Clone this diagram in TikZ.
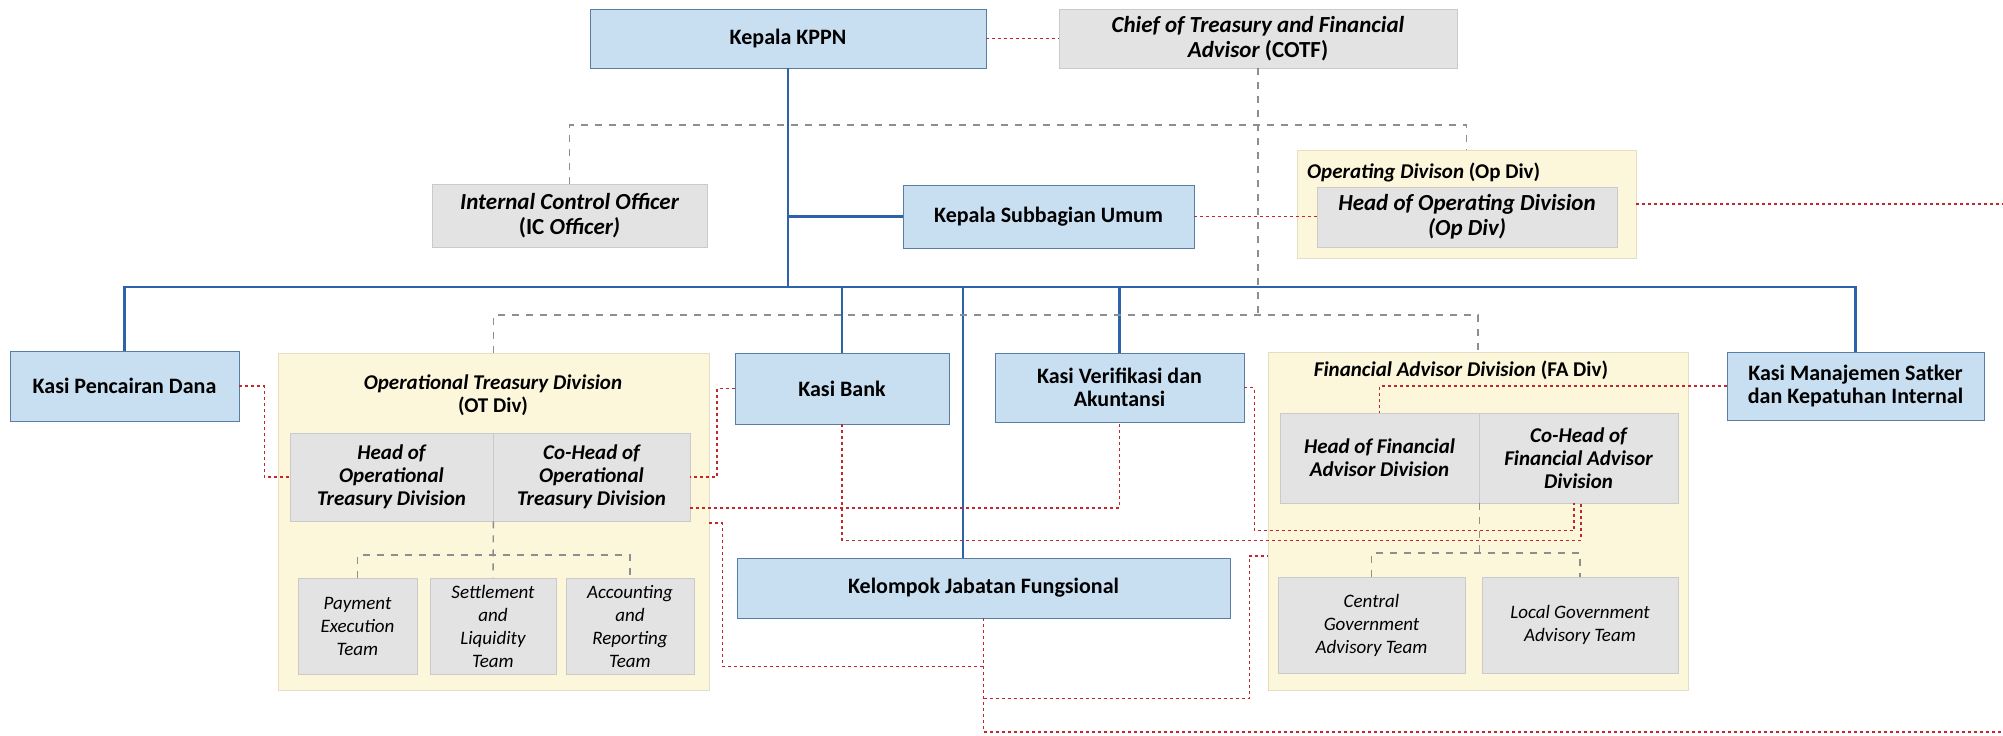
\documentclass[tikz,border=0pt]{standalone}
\usepackage{fontspec}
\setmainfont{Carlito}
\definecolor{kasiblue}{HTML}{C8DEF1}
\definecolor{kasiedge}{HTML}{5A7DA3}
\definecolor{headgray}{HTML}{E3E3E3}
\definecolor{grayedge}{HTML}{CACACA}
\definecolor{divyellow}{HTML}{FCF6DA}
\definecolor{divedge}{HTML}{E4DFC4}
\definecolor{linkblue}{HTML}{2E62A9}
\definecolor{linkred}{HTML}{C1272D}
\definecolor{linkgray}{HTML}{8E8E8E}
\begin{document}
\begin{tikzpicture}[x=1pt, y=-1pt,
  every node/.style={inner sep=0pt, align=center},
  bluebox/.style={draw=kasiedge, fill=kasiblue, line width=0.8pt,
    font=\fontsize{22}{23}\selectfont\bfseries},
  graybox/.style={draw=grayedge, fill=headgray, line width=0.8pt,
    font=\fontsize{23}{25}\selectfont\bfseries\itshape},
  headbox/.style={draw=grayedge, fill=headgray, line width=0.8pt,
    font=\fontsize{21}{23}\selectfont\bfseries\itshape},
  teambox/.style={draw=grayedge, fill=headgray, line width=0.8pt,
    font=\fontsize{19}{23}\selectfont\itshape},
  divbox/.style={draw=divedge, fill=divyellow, line width=0.8pt},
  divtitle/.style={font=\fontsize{21}{23}\selectfont\bfseries},
  bluelink/.style={draw=linkblue, line width=2.4pt},
  redlink/.style={draw=linkred, line width=1.8pt, dash pattern=on 3pt off 3pt},
  graylink/.style={draw=linkgray, line width=1.4pt, dash pattern=on 7pt off 7pt}]
  \useasboundingbox (0,0) rectangle (2003,736);
  \fill[white] (0,0) rectangle (2003,736);
  % division panels
  \node[divbox, minimum width=339, minimum height=108] (opdiv) at (1466.5,204) {};
  \node[divbox, minimum width=431, minimum height=337] (otdiv) at (493.5,521.5) {};
  \node[divbox, minimum width=420, minimum height=338] (fadiv) at (1478,521) {};
  \node[divtitle, anchor=west] (optitle) at (1307,172)
       {\textit{Operating Divison} (Op Div)};
  \node[divtitle] (ottitle) at (493,395)
       {\textit{Operational Treasury Division}\\(OT Div)};
  \node[divtitle] (fatitle) at (1461,370)
       {\textit{Financial Advisor Division} (FA Div)};
  % top level
  \node[bluebox, minimum width=396, minimum height=59] (kppn) at (788,38.5)
       {Kepala KPPN};
  \node[graybox, minimum width=398, minimum height=59] (cotf) at (1258,38.5)
       {Chief of Treasury and Financial\\Advisor {\upshape(COTF)}};
  \node[graybox, minimum width=275, minimum height=63] (ico) at (569.5,215.5)
       {Internal Control Officer\\{\upshape(IC} Officer)};
  \node[bluebox, minimum width=291, minimum height=63] (ksu) at (1048.5,216.5)
       {Kepala Subbagian Umum};
  \node[graybox, minimum width=300, minimum height=60] (ophead) at (1467,217)
       {Head of Operating Division\\(Op Div)};
  % kasi row
  \node[bluebox, minimum width=229, minimum height=70] (kpd) at (124.5,386)
       {Kasi Pencairan Dana};
  \node[bluebox, minimum width=214, minimum height=71] (kbank) at (842,388.5)
       {Kasi Bank};
  \node[bluebox, minimum width=249, minimum height=69] (kverif) at (1119.5,387.5)
       {Kasi Verifikasi dan\\Akuntansi};
  \node[bluebox, minimum width=257, minimum height=68] (kman) at (1855.5,386)
       {Kasi Manajemen Satker\\dan Kepatuhan Internal};
  \node[bluebox, minimum width=493, minimum height=60] (kjf) at (983.5,588)
       {Kelompok Jabatan Fungsional};
  % OT division
  \node[headbox, minimum width=203, minimum height=88] (othead) at (391.5,477)
       {Head of\\Operational\\Treasury Division};
  \node[headbox, minimum width=197, minimum height=88] (otcohead) at (591.5,477)
       {Co-Head of\\Operational\\Treasury Division};
  \node[teambox, minimum width=119, minimum height=96] (payteam) at (357.5,626)
       {Payment\\Execution\\Team};
  \node[teambox, minimum width=126, minimum height=96] (setteam) at (493,626)
       {Settlement\\and\\Liquidity\\Team};
  \node[teambox, minimum width=128, minimum height=96] (accteam) at (630,626)
       {Accounting\\and\\Reporting\\Team};
  % FA division
  \node[headbox, minimum width=199, minimum height=90] (fahead) at (1379.5,458)
       {Head of Financial\\Advisor Division};
  \node[headbox, minimum width=199, minimum height=90] (facohead) at (1578.5,458)
       {Co-Head of\\Financial Advisor\\Division};
  \node[teambox, minimum width=187, minimum height=96] (cgteam) at (1371.5,625)
       {Central\\Government\\Advisory Team};
  \node[teambox, minimum width=196, minimum height=96] (lgteam) at (1580,625)
       {Local Government\\Advisory Team};
  % levels and free ends
  \coordinate (bus) at (0,287);
  \coordinate (icolevel) at (0,125);
  \coordinate (cotflevel) at (0,315);
  \coordinate (otteams) at (0,555);
  \coordinate (fateams) at (0,553);
  \coordinate (opexit) at (2003,204);
  \coordinate (kjfexit) at (2003,732);
  \coordinate (kjfleft) at ([yshift=-48pt]kjf.south);
  \coordinate (kjfright) at ([yshift=-80pt]kjf.south);
  % line of command
  \draw[bluelink] (kppn.south) -- (kppn.south |- bus);
  \draw[bluelink] (kppn.south |- ksu.west) -- (ksu.west);
  \draw[bluelink] (kpd.north) |- (kman.north |- bus) -- (kman.north);
  \foreach \n in {kbank, kverif}
    \draw[bluelink] (\n.north |- bus) -- (\n.north);
  \draw[bluelink] ([xshift=-20.5pt]kjf.north |- bus) -- ([xshift=-20.5pt]kjf.north);
  % COTF structure
  \draw[graylink] (ico.north) |- (opdiv.north |- icolevel) -- (opdiv.north);
  \draw[graylink] (cotf.south) -- (cotf.south |- cotflevel);
  \draw[graylink] (otdiv.north) |- (fadiv.north |- cotflevel) -- (fadiv.north);
  \draw[graylink] (othead.south east) -- (setteam.north);
  \draw[graylink] (payteam.north) |- (accteam.north |- otteams) -- (accteam.north);
  \draw[graylink] (fahead.south east) -- (fahead.south east |- fateams);
  \draw[graylink] (cgteam.north) |- (lgteam.north |- fateams) -- (lgteam.north);
  % coordination
  \draw[redlink] (kppn) -- (cotf);
  \draw[redlink] (ksu.east) -- (ksu.east -| ophead.west);
  \draw[redlink] (opdiv.east) -- (opexit);
  \draw[redlink] (kpd.east) -- ++(25,0) |- (othead.west);
  \draw[redlink] (kbank.west) -- ++(-18,0) |- (otcohead.east);
  \draw[redlink] ([yshift=-31pt]otcohead.east) -| (kverif.south);
  \draw[redlink] (kbank.south) |- ([xshift=2.5pt,yshift=-37pt]facohead.south)
    -- ([xshift=2.5pt]facohead.south);
  \draw[redlink] (kverif.east) -- ++(10,0) |- ([xshift=-4.5pt,yshift=-27pt]facohead.south)
    -- ([xshift=-4.5pt]facohead.south);
  \draw[redlink] (kman.west) -| (fahead.north);
  \draw[redlink] ([yshift=-1.5pt]otdiv.east) -- ++(13,0) |- (kjfleft);
  \draw[redlink] (kjf.south) |- (kjfexit);
  \draw[redlink] (kjfright) -- ++(266,0) |- ([yshift=-35pt]fadiv.west);
\end{tikzpicture}
\end{document}
